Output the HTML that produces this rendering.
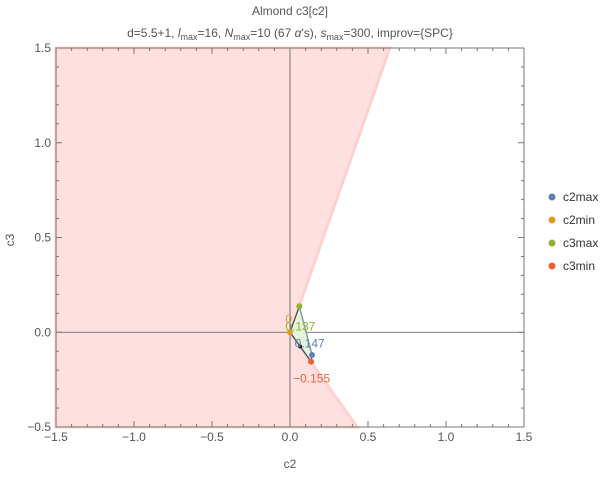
<!DOCTYPE html>
<html><head><meta charset="utf-8"><style>
body{margin:0;background:#fff;font-family:"Liberation Sans",sans-serif;}
svg text{font-family:"Liberation Sans",sans-serif;}
</style></head><body>
<svg id="c" width="609" height="474" xmlns="http://www.w3.org/2000/svg">
<text x="290" y="15" text-anchor="middle" font-size="12" fill="#555">Almond c3[c2]</text>
<text x="290" y="37" text-anchor="middle" font-size="12" fill="#555">d=5.5+1, <tspan font-style="italic">l</tspan><tspan font-size="9" dy="3">max</tspan><tspan dy="-3">=16, </tspan><tspan font-style="italic">N</tspan><tspan font-size="9" dy="3">max</tspan><tspan dy="-3">=10 (67 </tspan><tspan font-style="italic">α</tspan>'s), <tspan font-style="italic">s</tspan><tspan font-size="9" dy="3">max</tspan><tspan dy="-3">=300, improv={SPC}</tspan></text>
<g id="plot"></g>
</svg>
<script>
const xTicks=[-1.5,-1.0,-0.5,0.0,0.5,1.0,1.5];
const yTicks=[-0.5,0.0,0.5,1.0,1.5];
const regionTop=[0.64,1.5];
const regionBottom=[0.43,-0.5];
const seriesNames=["c2max","c2min","c3max","c3min"];
const seriesColors=["#5e81b5","#e19c24","#8fb032","#eb6235"];
const seriesC2=[0.141,0.0,0.06,0.135];
const seriesC3=[-0.12,0.0,0.137,-0.155];
const labels=["0.147","0","0.137","-0.155"];
const midPoint=[0.065,-0.075];
const X0=56,X1=524,Y0=427,Y1=48;
const sx=v=>X0+(v+1.5)/3*(X1-X0);
const sy=v=>Y0-(v+0.5)/2*(Y0-Y1);
const NS="http://www.w3.org/2000/svg";
const g=document.getElementById('plot');
function el(t,a,p){const e=document.createElementNS(NS,t);for(const k in a)e.setAttribute(k,a[k]);(p||g).appendChild(e);return e;}
// region
let r=el('polygon',{points:`${sx(-1.5)},${sy(1.5)} ${sx(regionTop[0])},${sy(regionTop[1])} ${sx(0)},${sy(0)} ${sx(regionBottom[0])},${sy(regionBottom[1])} ${sx(-1.5)},${sy(-0.5)}`,fill:'#ffe0e0',stroke:'#ffd0d0','stroke-width':3});


// axes lines
let ax=el('line',{x1:sx(0),x2:sx(0),y1:Y1,y2:Y0,stroke:'#555','stroke-width':0.8});


let ay=el('line',{x1:X0,x2:X1,y1:sy(0),y2:sy(0),stroke:'#555','stroke-width':0.8});


// frame
let fr=el('rect',{x:X0,y:Y1,width:X1-X0,height:Y0-Y1,fill:'none',stroke:'#777','stroke-width':1});


// ticks
for(let i=-1.5;i<=1.5001;i+=0.1){const x=sx(i);const major=Math.abs(i*2-Math.round(i*2))<1e-6;const L=major?6:3;
el('line',{x1:x,x2:x,y1:Y0,y2:Y0-L,stroke:'#777'});el('line',{x1:x,x2:x,y1:Y1,y2:Y1+L,stroke:'#777'});}
for(let i=-0.5;i<=1.5001;i+=0.1){const y=sy(i);const major=Math.abs(i*2-Math.round(i*2))<1e-6;const L=major?6:3;
el('line',{x1:X0,x2:X0+L,y1:y,y2:y,stroke:'#777'});el('line',{x1:X1,x2:X1-L,y1:y,y2:y,stroke:'#777'});}
xTicks.forEach(v=>{const t=el('text',{x:sx(v),y:Y0+14,'text-anchor':'middle','font-size':12,fill:'#555'});t.textContent=v.toFixed(1).replace('-','−');

});
yTicks.forEach(v=>{const t=el('text',{x:X0-5,y:sy(v)+4,'text-anchor':'end','font-size':12,fill:'#555'});t.textContent=v.toFixed(1).replace('-','−');

});
let xt=el('text',{x:290,y:468,'text-anchor':'middle','font-size':12,fill:'#555'});xt.textContent='c2';


let yt=el('text',{x:14,y:240,'text-anchor':'middle','font-size':12,fill:'#555',transform:'rotate(-90 14 240)'});yt.textContent='c3';


// hull polygon
const order=[1,2,0,3];
let hp=el('polygon',{points:order.map(i=>sx(seriesC2[i])+','+sy(seriesC3[i])).join(' '),fill:'#e4f5dc',stroke:'#444','stroke-width':1.2});


el('line',{x1:sx(seriesC2[2]),y1:sy(seriesC3[2]),x2:sx(seriesC2[0]),y2:sy(seriesC3[0]),stroke:'#8fa0a0','stroke-width':1.5});
let md=el('circle',{cx:sx(midPoint[0]),cy:sy(midPoint[1]),r:2,fill:'#222'});


const lblOff=[[-2,10,'start'],[-4,-12,'start'],[-12,18,'start'],[-20,22,'start']];
seriesNames.forEach((n,i)=>{const c=el('circle',{cx:sx(seriesC2[i]),cy:sy(seriesC3[i]),r:3,fill:seriesColors[i]});


const o=[[ -4, 16],[ -5, -12],[ -6, 18],[ -20, 22]][i];
const bx=[sx(0.02),sx(0),sx(0),sx(seriesC2[3])][i];const by=[sy(0),sy(0),sy(0),sy(seriesC3[3])][i];
const lx=[sx(0.03),sx(-0.03),sx(-0.03),sx(0.02)][i];const ly=[sy(-0.06),sy(0.07),sy(0.03),sy(-0.245)][i];
const t=el('text',{x:lx,y:ly+4,'font-size':12,fill:seriesColors[i]});t.textContent=labels[i].replace('-','−');


const ly2=197+i*23;
const lc=el('circle',{cx:552,cy:ly2,r:3.5,fill:seriesColors[i]});


const lt=el('text',{x:563,y:ly2+4,'font-size':12,fill:'#333'});lt.textContent=n;

});
</script>
</body></html>
